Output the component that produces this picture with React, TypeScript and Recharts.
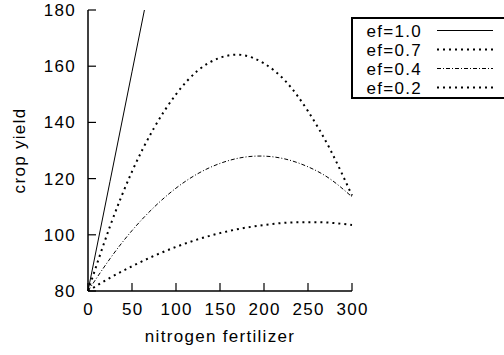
import React from 'react';
import { LineChart, Line, XAxis, YAxis } from 'recharts';

const nitrogen = [0, 25, 50, 75, 100, 125, 150, 175, 200, 225, 250, 275, 300];
const ef10 = [80, 119, 158, 197, null, null, null, null, null, null, null, null, null];
const ef07 = [80, 103, 122.5, 138, 150, 158.5, 163, 164, 161, 154.5, 144, 130.5, 114];
const ef04 = [80, 91.5, 101.5, 109.8, 116.6, 121.8, 125.4, 127.5, 128, 126.9, 124.2, 119.9, 113.5];
const ef02 = [80, 84.7, 88.8, 92.5, 95.7, 98.4, 100.6, 102.3, 103.5, 104.3, 104.5, 104.3, 103.5];

const xTicks = [0, 50, 100, 150, 200, 250, 300];
const yTicks = [80, 100, 120, 140, 160, 180];

const seriesNames = ['ef=1.0', 'ef=0.7', 'ef=0.4', 'ef=0.2'];
const seriesKeys = ['ef10', 'ef07', 'ef04', 'ef02'];

const styles: Record<string, { width: number; dash?: string; type: any }> = {
  ef10: { width: 1, type: 'linear' },
  ef07: { width: 2, dash: '2 4', type: 'natural' },
  ef04: { width: 1, dash: '4 2 1 2', type: 'natural' },
  ef02: { width: 2, dash: '2 4', type: 'natural' },
};

const data = nitrogen.map((n, i) => ({
  n,
  ef10: ef10[i],
  ef07: ef07[i],
  ef04: ef04[i],
  ef02: ef02[i],
}));

const FONT = '"Liberation Sans", Arial, sans-serif';
const FS = 17;
const LS = 1.3;

const BottomTick = (props: any) => {
  const { x, y, payload } = props;
  return (
    <g>
      <line x1={x} x2={x} y1={y} y2={y - 8} stroke="#000" strokeWidth={1.2} />
      <text x={x + LS / 2} y={y + 24} textAnchor="middle" fontFamily={FONT} fontSize={FS} letterSpacing={LS} fill="#000">
        {payload.value}
      </text>
    </g>
  );
};

const TopTick = (props: any) => {
  const { x, y } = props;
  return <line x1={x} x2={x} y1={y} y2={y + 8} stroke="#000" strokeWidth={1.2} />;
};

const LeftTick = (props: any) => {
  const { x, y, payload } = props;
  return (
    <g>
      <line x1={x} x2={x + 8} y1={y} y2={y} stroke="#000" strokeWidth={1.2} />
      <text x={x - 12} y={y + 6} textAnchor="end" fontFamily={FONT} fontSize={FS} letterSpacing={LS} fill="#000">
        {payload.value}
      </text>
    </g>
  );
};

const RightTick = (props: any) => {
  const { x, y } = props;
  return <line x1={x - 8} x2={x} y1={y} y2={y} stroke="#000" strokeWidth={1.2} />;
};

const ROW_H = 19;

function LegendBox() {
  const h = 4 + seriesKeys.length * ROW_H + 2;
  return (
    <svg
      width={170}
      height={h}
      style={{ position: 'absolute', left: 351, top: 17, display: 'block', overflow: 'hidden' }}
    >
      <rect x={0} y={0} width={170} height={h} fill="#fff" />
      <line x1={0} x2={170} y1={1} y2={1} stroke="#000" strokeWidth={2} />
      <line x1={0} x2={170} y1={h - 1} y2={h - 1} stroke="#000" strokeWidth={2} />
      <line x1={1} x2={1} y1={0} y2={h} stroke="#000" strokeWidth={2} />
      {seriesKeys.map((key, i) => {
        const st = styles[key];
        const cy = 4 + i * ROW_H + ROW_H / 2;
        return (
          <g key={key}>
            <text x={71} y={cy + 6} textAnchor="end" fontFamily={FONT} fontSize={FS} letterSpacing={LS} fill="#000">
              {seriesNames[i]}
            </text>
            <line x1={86} x2={142} y1={cy} y2={cy} stroke="#000" strokeWidth={st.width} strokeDasharray={st.dash} />
          </g>
        );
      })}
    </svg>
  );
}

export default function App() {
  return (
    <div style={{ position: 'absolute', left: 0, top: 0, background: '#fff', overflow: 'hidden', width: 504, height: 355 }}>
      <LineChart width={504} height={355} data={data} margin={{ top: 10, right: 152, left: 0, bottom: 0 }}>
        <XAxis
          dataKey="n"
          type="number"
          domain={[0, 300]}
          ticks={xTicks}
          interval={0}
          height={64}
          tickSize={0}
          tickMargin={0}
          tickLine={false}
          tick={<BottomTick />}
          axisLine={{ stroke: '#000', strokeWidth: 1.5 }}
          label={{ value: 'nitrogen fertilizer', position: 'insideBottom', offset: 13, fontFamily: FONT, fontSize: FS, letterSpacing: LS, fill: '#000' }}
        />
        <XAxis
          xAxisId="top"
          orientation="top"
          dataKey="n"
          type="number"
          domain={[0, 300]}
          ticks={xTicks}
          interval={0}
          height={0}
          tickSize={0}
          tickMargin={0}
          tickLine={false}
          tick={<TopTick />}
          axisLine={{ stroke: '#000', strokeWidth: 1.5 }}
        />
        <YAxis
          type="number"
          domain={[80, 180]}
          ticks={yTicks}
          interval={0}
          allowDataOverflow
          width={88}
          tickSize={0}
          tickMargin={0}
          tickLine={false}
          tick={<LeftTick />}
          axisLine={{ stroke: '#000', strokeWidth: 1.5 }}
          label={{ value: 'crop yield', angle: -90, position: 'insideLeft', offset: 19, fontFamily: FONT, fontSize: FS, letterSpacing: LS, fill: '#000', style: { textAnchor: 'middle' } }}
        />
        <YAxis
          yAxisId="right"
          orientation="right"
          type="number"
          domain={[80, 180]}
          ticks={yTicks}
          interval={0}
          width={0}
          tickSize={0}
          tickMargin={0}
          tickLine={false}
          tick={<RightTick />}
          axisLine={{ stroke: '#000', strokeWidth: 1.5 }}
        />
        {seriesKeys.map((k, i) => (
          <Line
            key={k}
            dataKey={k}
            name={seriesNames[i]}
            type={styles[k].type}
            stroke="#000"
            strokeWidth={styles[k].width}
            strokeDasharray={styles[k].dash}
            dot={false}
            activeDot={false}
            isAnimationActive={false}
          />
        ))}
      </LineChart>
      <LegendBox />
    </div>
  );
}
